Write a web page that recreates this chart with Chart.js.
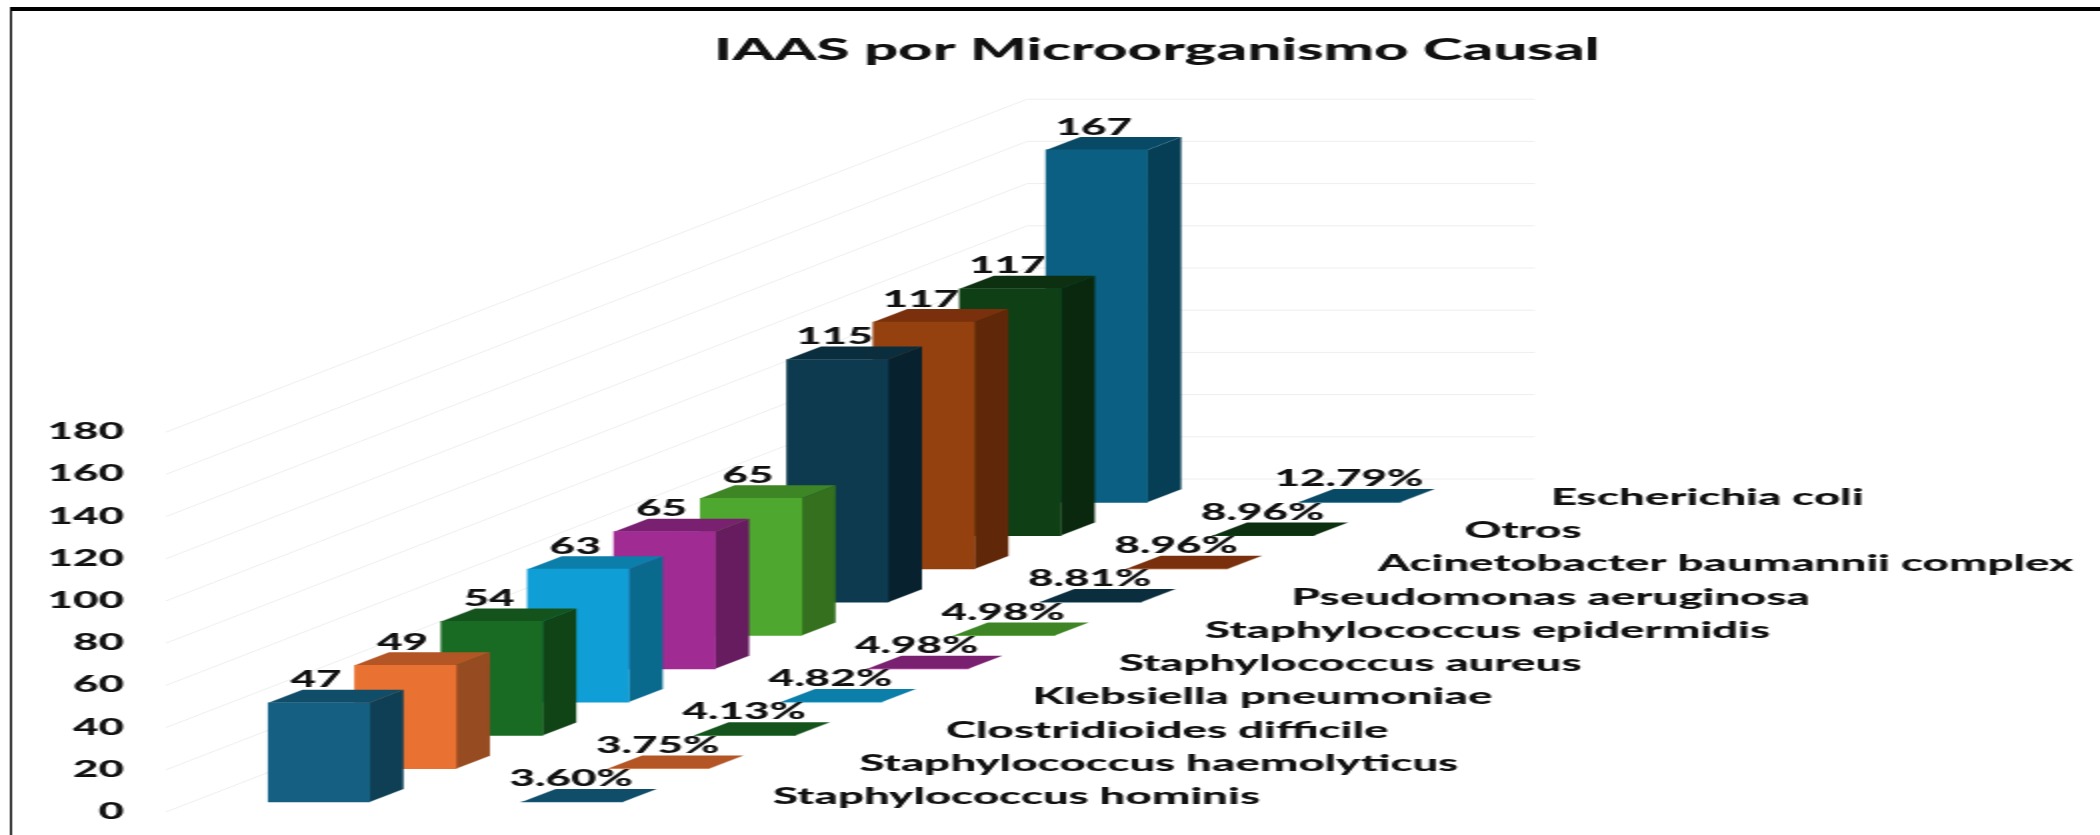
<!DOCTYPE html>
<html>
<head>
<meta charset="utf-8">
<title>IAAS por Microorganismo Causal</title>
<script src="https://cdn.jsdelivr.net/npm/chart.js@4"></script>
<style>
    html, body { margin: 0; padding: 0; background: #fff; overflow: hidden; }
    /* the reference is a picture stretched to twice its width */
    #myChart { display: block; transform: scaleX(2); transform-origin: 0 0; }
</style>
</head>
<body>
<canvas id="myChart" width="1050" height="835"></canvas>
<script>
// back to front, the order the bars have to be painted in
const categories = [
    'Escherichia coli',
    'Otros',
    'Acinetobacter baumannii complex',
    'Pseudomonas aeruginosa',
    'Staphylococcus epidermidis',
    'Staphylococcus aureus',
    'Klebsiella pneumoniae',
    'Clostridioides difficile',
    'Staphylococcus haemolyticus',
    'Staphylococcus hominis'
];
const cases = [167, 117, 117, 115, 65, 65, 63, 54, 49, 47];
const percents = [12.79, 8.96, 8.96, 8.81, 4.98, 4.98, 4.82, 4.13, 3.75, 3.60];
const yTicks = [0, 20, 40, 60, 80, 100, 120, 140, 160, 180];

const frontColors = ['#0A5F82', '#0F4015', '#94400F', '#0D3A4E', '#4EA72E', '#A02B93', '#0F9ED5', '#196B24', '#E97132', '#156082'];
const topColors = ['#084A66', '#0C3010', '#7A300C', '#0A2E3E', '#3E8525', '#7A2070', '#0C7EAA', '#14541C', '#B45525', '#104D69'];
const sideColors = ['#063E55', '#0A280D', '#602808', '#07222E', '#34701E', '#661C5E', '#0A6A8E', '#104416', '#974B20', '#0E3F55'];

const DEPTH_STEP = 15.78; // y units one row moves up going back
const FIRST_BASE = 4.74;
const SHEAR_X = 17;
const SHEAR_Y = 13;
const PERCENT_SHIFT = 2.93; // x units between the two rows of bars
const LABEL_SHIFT = 5.255;
const FONT = 'Lato, "Open Sans", sans-serif';

const rows = categories.length;
const xOf = (i) => rows - 1 - i;
const baseOf = (i) => FIRST_BASE + xOf(i) * DEPTH_STEP;

class Bar3dElement extends Chart.BarElement {
    draw(ctx) {
        const i = this.$context.dataIndex;
        const { x, y, base, width } = this.getProps(['x', 'y', 'base', 'width']);
        const left = x - width / 2;
        const right = x + width / 2;
        ctx.save();
        ctx.fillStyle = sideColors[i];
        ctx.beginPath();
        ctx.moveTo(right, y);
        ctx.lineTo(right + SHEAR_X, y - SHEAR_Y);
        ctx.lineTo(right + SHEAR_X, base - SHEAR_Y);
        ctx.lineTo(right, base);
        ctx.closePath();
        ctx.fill();
        ctx.fillStyle = topColors[i];
        ctx.beginPath();
        ctx.moveTo(left, y);
        ctx.lineTo(left + SHEAR_X, y - SHEAR_Y);
        ctx.lineTo(right + SHEAR_X, y - SHEAR_Y);
        ctx.lineTo(right, y);
        ctx.closePath();
        ctx.fill();
        ctx.restore();
        super.draw(ctx);
    }
}
Bar3dElement.id = 'bar3d';
Bar3dElement.defaults = Object.assign({}, Chart.BarElement.defaults);

class Bar3dController extends Chart.BarController {}
Bar3dController.id = 'bar3d';
Bar3dController.defaults = Object.assign({}, Chart.BarController.defaults, { dataElementType: 'bar3d' });

Chart.register(Bar3dElement, Bar3dController);

// texts the library has no place for: title, value labels, row names and frame
const textPlugin = {
    id: 'textPlugin',
    afterDatasetsDraw(chart) {
        const ctx = chart.ctx;
        const xs = chart.scales.x;
        const ys = chart.scales.y;
        ctx.save();
        ctx.fillStyle = '#000';
        ctx.fillRect(5, 7, 1045, 4);
        ctx.fillRect(5, 7, 1, 828);

        ctx.fillStyle = '#111';
        ctx.textBaseline = 'middle';
        ctx.textAlign = 'center';
        ctx.font = '900 30px ' + FONT;
        ctx.fillText('IAAS por Microorganismo Causal', 578.5, 50);

        categories.forEach((name, i) => {
            const caseX = xs.getPixelForValue(xOf(i));
            const caseTop = ys.getPixelForValue(baseOf(i) + cases[i]);
            ctx.font = '900 22px ' + FONT;
            ctx.textAlign = 'center';
            ctx.fillText(String(cases[i]), caseX - 1.5, caseTop - SHEAR_Y - 9.5);

            const pctX = xs.getPixelForValue(xOf(i) + PERCENT_SHIFT);
            const rowY = ys.getPixelForValue(baseOf(i));
            ctx.fillText(percents[i].toFixed(2) + '%', pctX - 0.5, rowY - SHEAR_Y - 10);

            ctx.font = '900 22.8px ' + FONT;
            ctx.textAlign = 'left';
            ctx.fillText(name, xs.getPixelForValue(xOf(i) + LABEL_SHIFT), rowY - 5);
        });
        ctx.restore();
    }
};

// the wall lines: along the left side to the back corner, then across the back
const gridDatasets = yTicks.map((tick) => ({
    type: 'line',
    data: [
        { x: -1.771, y: tick },
        { x: 8.194, y: tick + 10 * DEPTH_STEP },
        { x: 14.07, y: tick + 10 * DEPTH_STEP }
    ],
    borderColor: '#eeeeee',
    borderWidth: 1,
    pointRadius: 0,
    order: 3
}));

const caseBars = {
    type: 'bar3d',
    data: categories.map((name, i) => ({ x: xOf(i), y: [baseOf(i), baseOf(i) + cases[i]] })),
    backgroundColor: frontColors,
    barThickness: 50.5,
    grouped: false,
    order: 1
};

// these are fractions, so on this scale only their top face can be seen
const percentBars = {
    type: 'bar3d',
    data: categories.map((name, i) => ({ x: xOf(i) + PERCENT_SHIFT, y: [baseOf(i), baseOf(i) + percents[i] / 100] })),
    backgroundColor: frontColors,
    barThickness: 50.5,
    grouped: false,
    order: 2
};

const myChart = new Chart(document.getElementById('myChart').getContext('2d'), {
    data: { datasets: gridDatasets.concat([percentBars, caseBars]) },
    options: {
        responsive: false,
        animation: false,
        layout: { padding: 0 },
        plugins: { legend: { display: false }, tooltip: { enabled: false } },
        scales: {
            x: { type: 'linear', offset: false, min: -2.0718, max: 20.61, display: false },
            y: {
                type: 'linear',
                offset: false,
                min: -10.9,
                max: 384.8,
                grid: { display: false },
                border: { display: false },
                afterBuildTicks: (axis) => { axis.ticks = yTicks.map((value) => ({ value })); },
                afterFit: (axis) => {
                    axis.width = 70;
                    axis.paddingTop = 0;
                    axis.paddingBottom = 0;
                },
                ticks: {
                    padding: 0,
                    autoSkip: false,
                    color: '#111',
                    font: { family: FONT, weight: 900, size: 22 }
                }
            }
        }
    },
    plugins: [textPlugin]
});
</script>
</body>
</html>
